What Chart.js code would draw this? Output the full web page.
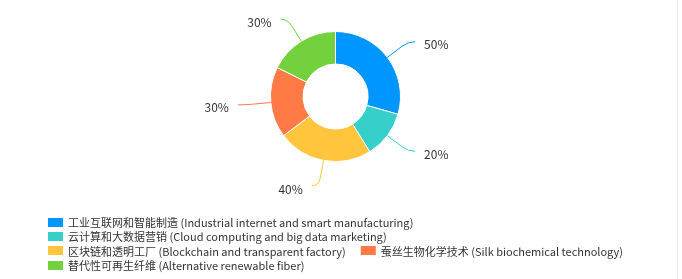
<!DOCTYPE html>
<html>
<head>
<meta charset="utf-8">
<script src="https://cdn.jsdelivr.net/npm/chart.js@4/dist/chart.umd.min.js"></script>
<style>
  html, body { margin: 0; padding: 0; background: #fff; }
  #wrap { position: relative; width: 682px; height: 279px; }
  #edge { position: absolute; left: 677px; top: 0; width: 1px; height: 279px; background: #e8e8e8; }
</style>
</head>
<body>
<div id="wrap">
  <canvas id="c" width="682" height="279"></canvas>
  <div id="edge"></div>
</div>
<script>
const categories = [
  '工业互联网和智能制造 (Industrial internet and smart manufacturing)',
  '云计算和大数据营销 (Cloud computing and big data marketing)',
  '区块链和透明工厂 (Blockchain and transparent factory)',
  '蚕丝生物化学技术 (Silk biochemical technology)',
  '替代性可再生纤维 (Alternative renewable fiber)'
];
const values = [50, 20, 40, 30, 30];
const valueLabels = ['50%', '20%', '40%', '30%', '30%'];
const colors = ['#0096ff', '#36cfc9', '#ffc53d', '#ff7a45', '#73d13d'];

const FONT = '"Noto Sans CJK SC", "Noto Sans", sans-serif';

const labelPlugin = {
  id: 'outLabels',
  afterDatasetsDraw(chart) {
    const ctx = chart.ctx;
    const meta = chart.getDatasetMeta(0);
    ctx.save();
    meta.data.forEach((arc, i) => {
      const p = arc.getProps(['x', 'y', 'startAngle', 'endAngle', 'outerRadius'], true);
      const mid = (p.startAngle + p.endAngle) / 2;
      const cos = Math.cos(mid), sin = Math.sin(mid);
      const r0 = p.outerRadius;
      const L1 = 26, L2 = 7;
      const x0 = p.x + cos * r0, y0 = p.y + sin * r0;
      const x1 = p.x + cos * (r0 + L1), y1 = p.y + sin * (r0 + L1);
      const right = cos >= 0;
      const x2 = x1 + (right ? L2 : -L2), y2 = y1;
      const xm = x0 + (x1 - x0) * 0.7, ym = y0 + (y1 - y0) * 0.7;
      ctx.strokeStyle = colors[i];
      ctx.lineWidth = 1;
      ctx.beginPath();
      ctx.moveTo(x0, y0);
      ctx.lineTo(xm, ym);
      ctx.quadraticCurveTo(x1, y1, x2, y2);
      ctx.stroke();
      ctx.fillStyle = '#333';
      ctx.font = '12px ' + FONT;
      ctx.textBaseline = 'middle';
      ctx.textAlign = right ? 'left' : 'right';
      ctx.fillText(valueLabels[i], x2 + (right ? 9 : -9), y2 + 3);
    });
    ctx.restore();
  }
};

const legendPlugin = {
  id: 'customLegend',
  afterDraw(chart) {
    const ctx = chart.ctx;
    ctx.save();
    ctx.font = '11px ' + FONT;
    ctx.textBaseline = 'middle';
    ctx.textAlign = 'left';
    const left = 48, maxRight = 672, gap = 15, boxW = 15, boxH = 9, textGap = 5;
    let x = left, y = 222.5;
    const rowH = 14.2;
    categories.forEach((label, i) => {
      const w = boxW + textGap + ctx.measureText(label).width;
      if (x > left && x + w > maxRight) {
        x = left;
        y += rowH;
      }
      ctx.fillStyle = colors[i];
      ctx.fillRect(x, Math.round(y - boxH / 2), boxW, boxH);
      ctx.fillStyle = '#333';
      ctx.fillText(label, x + boxW + textGap, y + 0.5);
      x += w + gap;
    });
    ctx.restore();
  }
};

new Chart(document.getElementById('c'), {
  type: 'doughnut',
  data: {
    labels: categories,
    datasets: [{
      data: values,
      backgroundColor: colors,
      borderColor: '#ffffff',
      borderWidth: 1,
      hoverOffset: 0
    }]
  },
  options: {
    responsive: false,
    animation: false,
    radius: 65,
    cutout: '50%',
    layout: { padding: { top: 20, bottom: 106, left: 0, right: 11 } },
    plugins: {
      legend: { display: false },
      tooltip: { enabled: false }
    }
  },
  plugins: [labelPlugin, legendPlugin]
});
</script>
</body>
</html>
